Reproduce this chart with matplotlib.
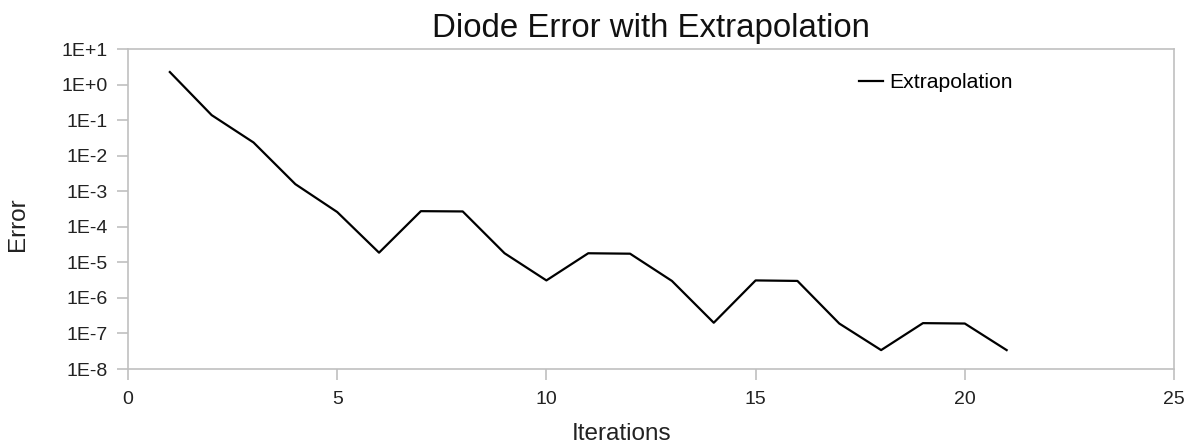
import numpy as np
import matplotlib
matplotlib.use("Agg")
from matplotlib import pyplot as plt
from matplotlib.ticker import FixedLocator, FixedFormatter

plt.rcParams['font.family'] = ['Liberation Sans', 'DejaVu Sans']

# data
iterations = [1, 2, 3, 4, 5, 6, 7, 8, 9, 10, 11, 12, 13, 14, 15, 16, 17, 18, 19, 20, 21]
error = [2.25, 0.138, 0.0235, 1.58e-3, 2.6e-4, 1.87e-5, 2.75e-4, 2.7e-4, 1.8e-5, 3.1e-6,
         1.8e-5, 1.75e-5, 3.0e-6, 2.0e-7, 3.1e-6, 3.0e-6, 1.9e-7, 3.4e-8, 1.95e-7, 1.9e-7, 3.4e-8]

y_ticks = [1e1, 1e0, 1e-1, 1e-2, 1e-3, 1e-4, 1e-5, 1e-6, 1e-7, 1e-8]
y_labels = ["1E+1", "1E+0", "1E-1", "1E-2", "1E-3", "1E-4", "1E-5", "1E-6", "1E-7", "1E-8"]
x_ticks = [0, 5, 10, 15, 20, 25]

W, H = 1193, 447
fig = plt.figure(figsize=(W / 100, H / 100), dpi=100)
ax = fig.add_axes([128 / W, 1 - 369 / H, (1174 - 128) / W, (369 - 49) / H])

ax.plot(iterations, error, color="black", lw=1.6, label="Extrapolation")

ax.set_yscale("log")
ax.set_ylim(1e-8, 1e1)
ax.set_xlim(0, 25)
ax.yaxis.set_major_locator(FixedLocator(y_ticks))
ax.yaxis.set_major_formatter(FixedFormatter(y_labels))
ax.yaxis.set_minor_locator(FixedLocator([]))
ax.set_xticks(x_ticks)

grey = "#c0c0c0"
for s in ax.spines.values():
    s.set_color(grey)
    s.set_linewidth(1.2)
ax.tick_params(axis="both", which="major", color=grey, width=1.2, length=8,
               labelsize=14, labelcolor="#222222", direction="out")
ax.tick_params(axis="x", pad=8)
ax.tick_params(axis="y", pad=6.5)

ax.set_title("Diode Error with Extrapolation", fontsize=23.8, color="#111111", pad=9)
ax.set_xlabel("Iterations", fontsize=17.5, color="#222222")
ax.set_ylabel("Error", fontsize=17.5, color="#222222")
ax.xaxis.set_label_coords((622 - 128) / 1046, -(423 - 369) / 320)
ax.yaxis.set_label_coords(-(128 - 29) / 1046, (369 - 224) / 320)

ax.legend(loc="upper left", bbox_to_anchor=((859 - 128) / 1046, 1 - (73 - 49) / 320),
          frameon=False, fontsize=15.2, handlelength=1.15, handletextpad=0.3,
          borderaxespad=0, borderpad=0)

fig.savefig("out.png", dpi=100)
